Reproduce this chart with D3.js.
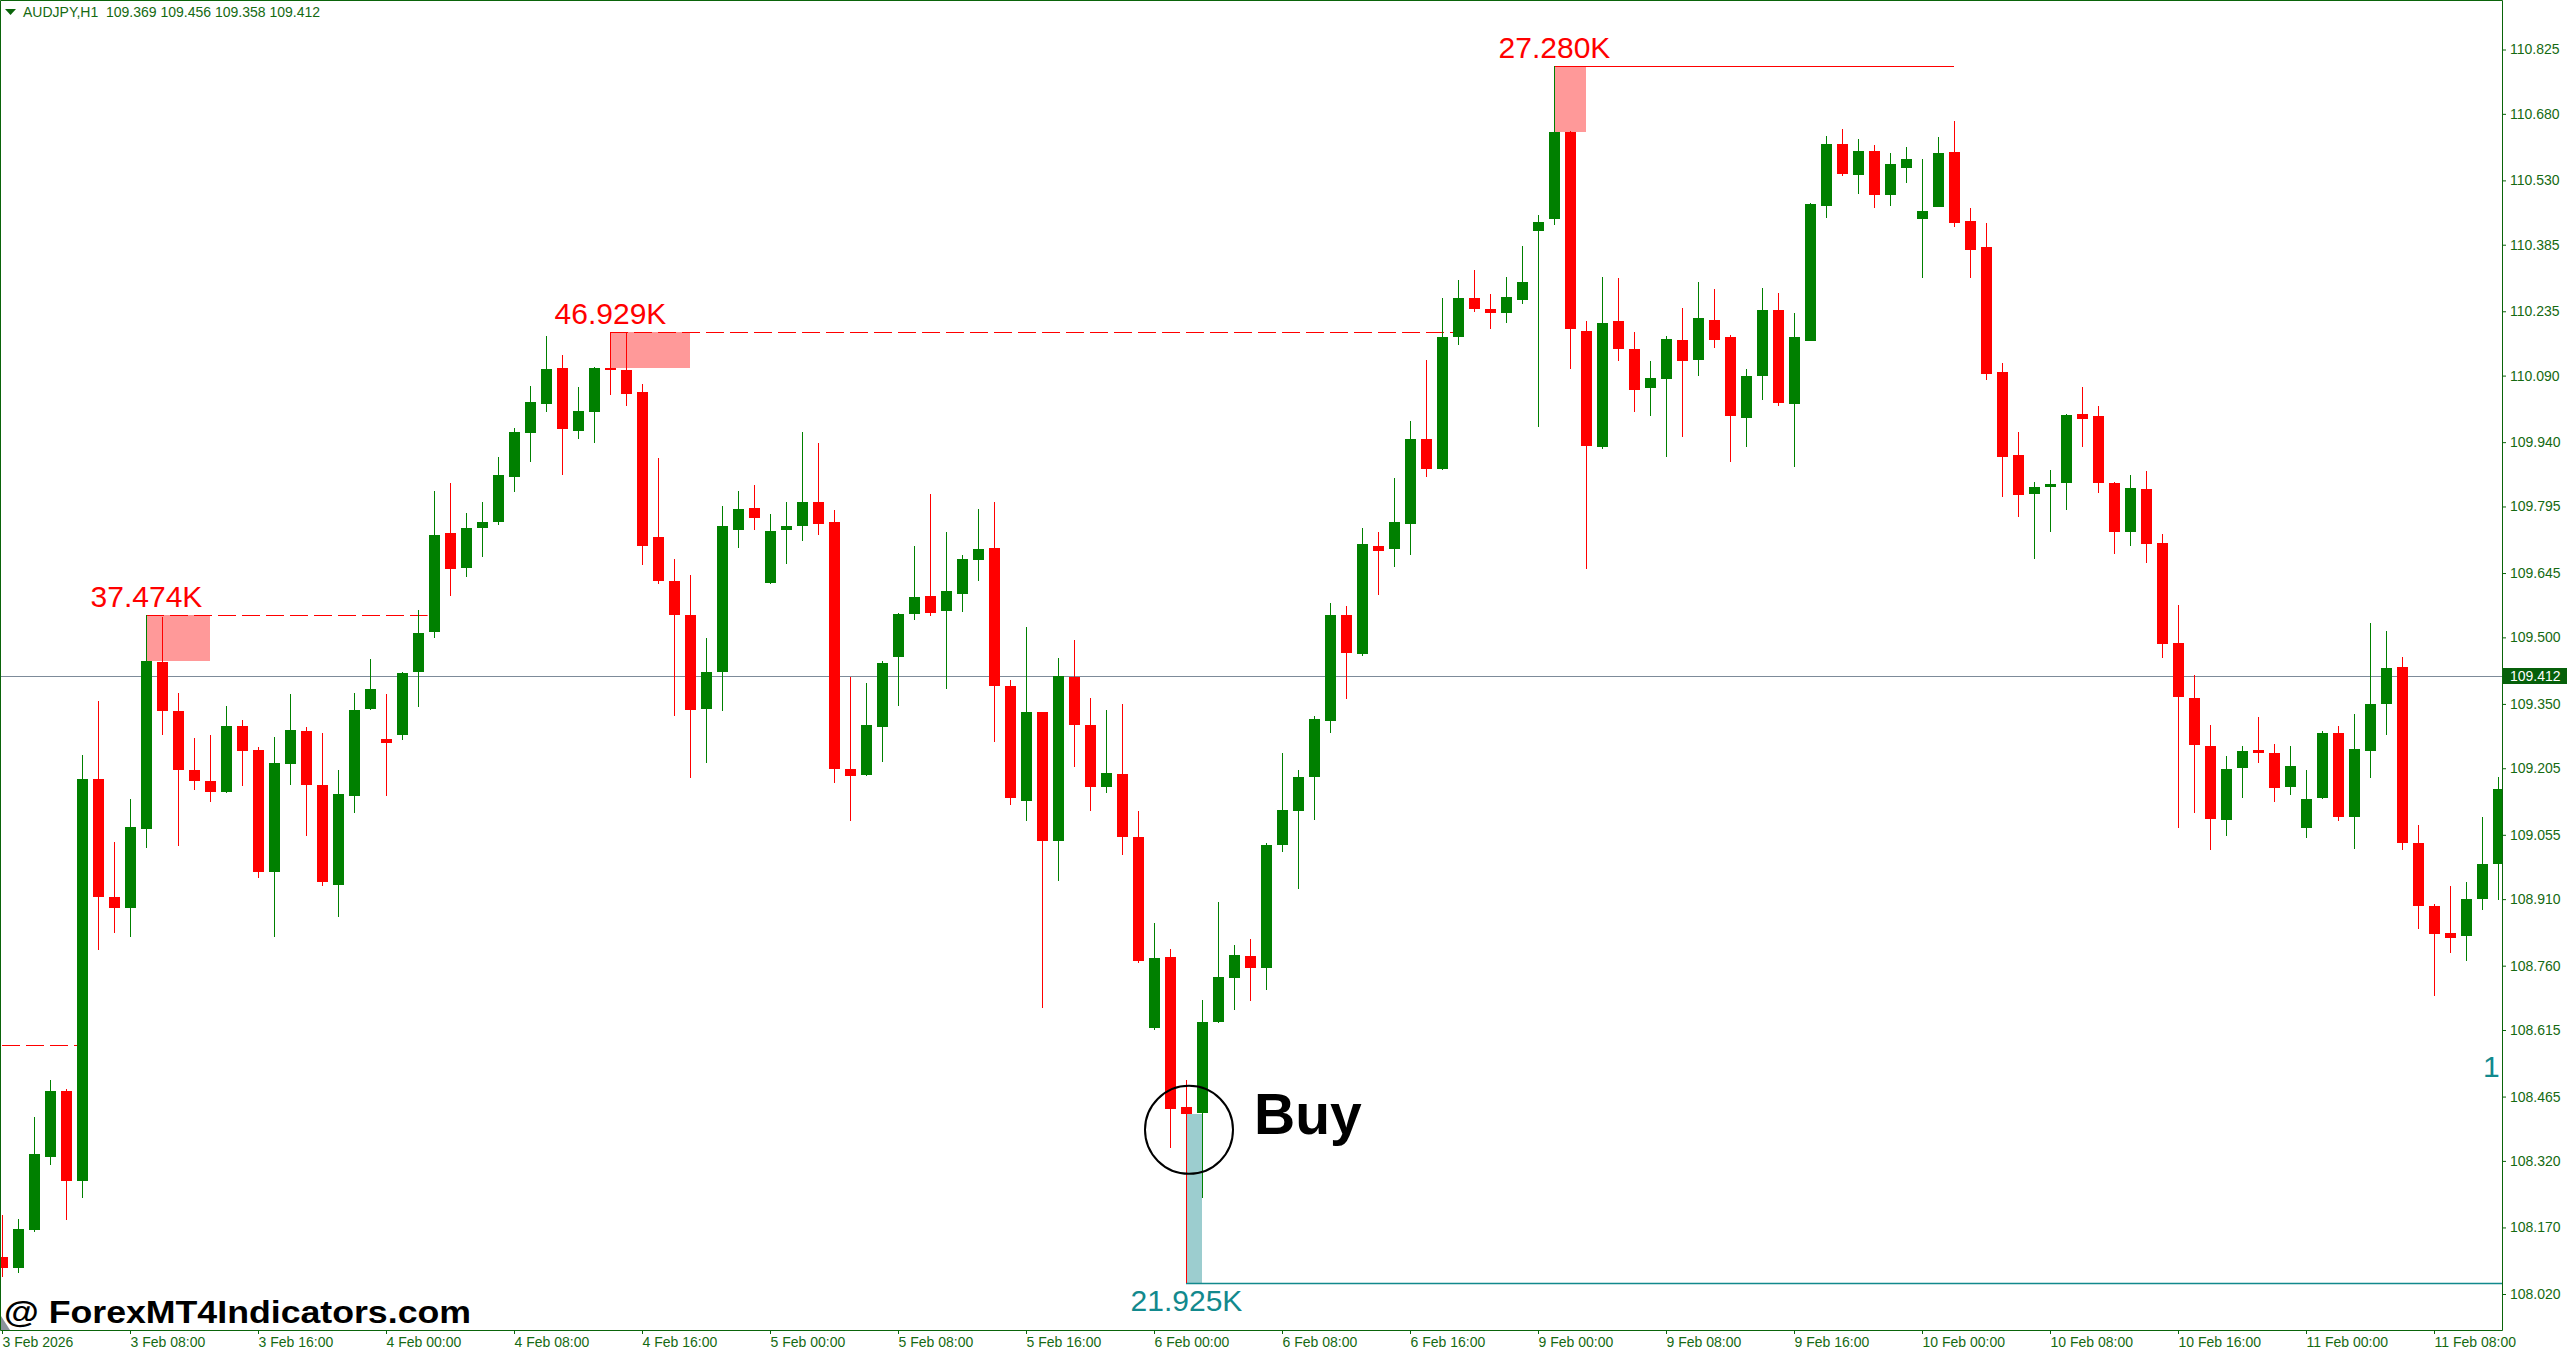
<!DOCTYPE html>
<html><head><meta charset="utf-8">
<script src="https://cdn.jsdelivr.net/npm/d3@7"></script>
<style>html,body{margin:0;padding:0;background:#fff;overflow:hidden}</style>
</head><body><svg id="c" width="2569" height="1355"></svg>
<script>
// ---------------- DATA ----------------
const chartTitle = "AUDJPY,H1  109.369 109.456 109.358 109.412";
const currentPrice = 109.412;

const openP = [108.103,108.079,108.164,108.329,108.478,108.275,109.181,108.915,108.890,109.069,
109.445,109.335,109.202,109.177,109.152,109.301,109.247,108.972,109.215,109.290,
109.168,108.942,109.143,109.339,109.271,109.281,109.423,109.513,109.736,109.657,
109.747,109.759,109.862,109.961,110.025,110.108,109.966,110.007,110.108,110.103,
110.052,109.727,109.628,109.551,109.339,109.423,109.743,109.792,109.623,109.743,
109.750,109.804,109.759,109.204,109.190,109.299,109.456,109.553,109.594,109.560,
109.598,109.675,109.702,109.391,109.132,109.332,109.042,109.411,109.303,109.163,
109.193,109.051,108.620,108.780,108.442,108.428,108.633,108.733,108.782,108.755,
109.032,109.109,109.186,109.312,109.551,109.463,109.707,109.700,109.756,109.948,
109.880,110.178,110.266,110.239,110.232,110.261,110.417,110.442,110.640,110.191,
109.928,110.212,110.151,110.061,110.083,110.171,110.126,110.216,110.176,109.995,
110.088,110.237,110.027,110.169,110.473,110.613,110.543,110.597,110.496,110.559,
110.444,110.471,110.595,110.439,110.379,110.097,109.912,109.824,109.840,109.849,
110.004,109.998,109.849,109.738,109.835,109.713,109.488,109.364,109.256,109.089,
109.206,109.247,109.240,109.163,109.071,109.138,109.285,109.096,109.244,109.350,
109.434,109.037,108.895,108.834,108.827,108.911,108.990];

const highP = [108.198,108.189,108.419,108.503,108.482,109.235,109.357,109.039,109.136,109.551,
109.547,109.375,109.274,109.281,109.346,109.314,109.253,109.276,109.373,109.299,
109.285,109.202,109.375,109.452,109.373,109.423,109.562,109.831,109.849,109.781,
109.806,109.907,109.973,110.067,110.180,110.137,110.065,110.110,110.189,110.187,
110.072,109.905,109.677,109.641,109.499,109.795,109.831,109.844,109.779,109.804,
109.964,109.937,109.788,109.411,109.398,109.447,109.556,109.707,109.824,109.738,
109.686,109.790,109.806,109.405,109.524,109.332,109.454,109.495,109.364,109.337,
109.350,109.109,108.857,108.798,108.503,108.683,108.904,108.807,108.821,109.037,
109.240,109.202,109.323,109.578,109.571,109.747,109.738,109.860,109.988,110.126,
110.266,110.306,110.327,110.275,110.313,110.383,110.453,110.787,110.642,110.214,
110.313,110.309,110.189,110.122,110.180,110.243,110.300,110.286,110.182,110.106,
110.288,110.277,110.230,110.480,110.631,110.645,110.624,110.609,110.591,110.606,
110.579,110.627,110.663,110.467,110.435,110.119,109.964,109.851,109.878,110.004,
110.065,110.022,109.851,109.865,109.874,109.734,109.574,109.416,109.303,109.233,
109.256,109.321,109.260,109.256,109.202,109.290,109.301,109.328,109.533,109.515,
109.456,109.078,108.899,108.940,108.949,109.096,109.186];

const lowP = [108.058,108.067,108.160,108.311,108.187,108.237,108.796,108.834,108.825,109.026,
109.281,109.030,109.156,109.129,109.150,109.166,108.958,108.825,109.168,109.053,
108.940,108.870,109.105,109.337,109.143,109.269,109.344,109.499,109.594,109.635,
109.682,109.754,109.828,109.896,110.007,109.865,109.948,109.939,110.047,110.022,
109.662,109.621,109.323,109.184,109.217,109.335,109.702,109.743,109.621,109.666,
109.718,109.731,109.172,109.087,109.188,109.220,109.346,109.540,109.549,109.384,
109.558,109.628,109.265,109.123,109.087,108.665,108.951,109.208,109.109,109.150,
109.010,108.766,108.615,108.349,108.045,108.237,108.631,108.660,108.681,108.706,
109.017,108.933,109.089,109.285,109.362,109.459,109.596,109.659,109.686,109.862,
109.878,110.158,110.234,110.196,110.209,110.252,109.975,110.430,110.106,109.653,
109.925,110.124,110.007,109.998,109.907,109.952,110.088,110.153,109.896,109.930,
110.034,110.022,109.883,110.167,110.446,110.539,110.500,110.467,110.473,110.525,
110.311,110.469,110.426,110.311,110.081,109.817,109.772,109.677,109.738,109.786,
109.928,109.826,109.689,109.707,109.668,109.454,109.071,109.105,109.021,109.053,
109.138,109.217,109.129,109.145,109.048,109.136,109.087,109.023,109.184,109.281,
109.021,108.843,108.692,108.789,108.771,108.886,108.908];

const closeP = [108.079,108.167,108.336,108.478,108.275,109.181,108.915,108.890,109.073,109.447,
109.335,109.202,109.177,109.152,109.301,109.244,108.972,109.217,109.292,109.168,
108.949,109.147,109.337,109.384,109.262,109.420,109.510,109.731,109.655,109.747,
109.761,109.865,109.964,110.031,110.106,109.970,110.011,110.108,110.103,110.049,
109.707,109.628,109.551,109.337,109.423,109.750,109.790,109.770,109.740,109.750,
109.804,109.756,109.204,109.188,109.303,109.443,109.553,109.592,109.556,109.605,
109.677,109.700,109.391,109.138,109.332,109.042,109.414,109.303,109.163,109.195,
109.051,108.771,108.778,108.437,108.426,108.633,108.735,108.784,108.755,109.032,
109.111,109.186,109.317,109.551,109.465,109.711,109.695,109.759,109.948,109.880,
110.176,110.264,110.239,110.232,110.268,110.300,110.437,110.638,110.196,109.932,
110.209,110.149,110.058,110.085,110.173,110.124,110.219,110.171,110.000,110.090,
110.237,110.029,110.178,110.476,110.613,110.545,110.597,110.496,110.566,110.579,
110.460,110.591,110.435,110.374,110.094,109.907,109.822,109.840,109.846,110.002,
109.993,109.849,109.738,109.837,109.711,109.486,109.366,109.258,109.091,109.204,
109.244,109.240,109.161,109.211,109.136,109.285,109.096,109.249,109.350,109.432,
109.037,108.895,108.832,108.823,108.911,108.990,109.159];

const timeLabelIndex = [0,8,16,24,32,40,48,56,64,72,80,88,96,104,112,120,128,136,144,152];
const timeLabels = ["3 Feb 2026","3 Feb 08:00","3 Feb 16:00","4 Feb 00:00","4 Feb 08:00","4 Feb 16:00",
"5 Feb 00:00","5 Feb 08:00","5 Feb 16:00","6 Feb 00:00","6 Feb 08:00","6 Feb 16:00",
"9 Feb 00:00","9 Feb 08:00","9 Feb 16:00","10 Feb 00:00","10 Feb 08:00","10 Feb 16:00",
"11 Feb 00:00","11 Feb 08:00"];

const priceTicks = [110.825,110.680,110.530,110.385,110.235,110.090,109.940,109.795,109.645,109.500,
109.350,109.205,109.055,108.910,108.760,108.615,108.465,108.320,108.170,108.020];

// volume-level annotations (candle index, label, side of candle, end candle, dashed, box width in bars)
const volIndex = [9, 38, 97, 74];
const volText = ["37.474K","46.929K","27.280K","21.925K"];
const volSide = ["high","high","high","low"];
const volEnd = [26.6, 90.8, 122, 160];
const volDashed = [true, true, false, false];
const volBoxBars = [4, 5, 2, 1];
const oldLevelPrice = 108.582, oldLevelEnd = 5;
const buyIndex = 74, buyPrice = 108.390;

// ---------------- DRAW ----------------
const W = 2569, H = 1355, plotR = 2502, plotB = 1330;
const axisCol = "#0a640a", textCol = "#156a12";
const bull = "#008000", bear = "#ff0000";
const font = "'Liberation Sans', Arial, sans-serif";

const x = d3.scaleLinear().domain([0, 156]).range([2, 2498]);
const y = d3.scaleLinear().domain([108.020, 110.825]).range([1294, 49.5]);

const svg = d3.select("#c");
svg.append("rect").attr("width", W).attr("height", H).attr("fill", "#fff");
svg.append("defs").append("clipPath").attr("id", "plot")
  .append("rect").attr("x", 1).attr("y", 1).attr("width", plotR - 1).attr("height", plotB - 1);

const g = svg.append("g").attr("clip-path", "url(#plot)");

// current price line
g.append("line").attr("x1", 0).attr("x2", plotR)
  .attr("y1", Math.round(y(currentPrice)) + 0.5).attr("y2", Math.round(y(currentPrice)) + 0.5)
  .attr("stroke", "#7d8b99").attr("stroke-width", 1);

// volume boxes and level lines
const vols = volIndex.map((idx, k) => {
  const side = volSide[k];
  const level = side === "high" ? highP[idx] : lowP[idx];
  const bodyEdge = side === "high" ? Math.max(openP[idx], closeP[idx]) : Math.min(openP[idx], closeP[idx]);
  return {idx, side, level, bodyEdge, text: volText[k], end: volEnd[k], dashed: volDashed[k], bars: volBoxBars[k]};
});

g.selectAll("rect.vbox").data(vols).enter().append("rect")
  .attr("x", d => Math.round(x(d.idx)))
  .attr("width", d => x(d.idx + d.bars) - x(d.idx))
  .attr("y", d => Math.round(Math.min(y(d.level), y(d.bodyEdge))))
  .attr("height", d => Math.abs(Math.round(y(d.level)) - Math.round(y(d.bodyEdge))))
  .attr("fill", d => d.side === "high" ? "#ff9999" : "#9ccdcf");

g.selectAll("line.vlev").data(vols).enter().append("line")
  .attr("x1", d => Math.round(x(d.idx)))
  .attr("x2", d => Math.min(plotR, x(d.end)))
  .attr("y1", d => Math.round(y(d.level)) + 0.5)
  .attr("y2", d => Math.round(y(d.level)) + 0.5)
  .attr("stroke", d => d.side === "high" ? "#ff0000" : "#12898d")
  .attr("stroke-width", d => d.side === "high" ? 1 : 1.5)
  .attr("stroke-dasharray", d => d.dashed ? "18,6" : null);

// older level line at left
g.append("line").attr("x1", x(0)).attr("x2", x(oldLevelEnd))
  .attr("y1", Math.round(y(oldLevelPrice)) + 0.5).attr("y2", Math.round(y(oldLevelPrice)) + 0.5)
  .attr("stroke", "#ff0000").attr("stroke-width", 1).attr("stroke-dasharray", "18,6");

// candles
const candles = openP.map((o, i) => ({i, o, h: highP[i], l: lowP[i], c: closeP[i]}));
const cg = g.append("g");
cg.selectAll("rect.wick").data(candles).enter().append("rect")
  .attr("x", d => Math.round(x(d.i)))
  .attr("width", 1)
  .attr("y", d => Math.round(y(d.h)))
  .attr("height", d => Math.max(1, Math.round(y(d.l)) - Math.round(y(d.h))))
  .attr("fill", d => d.c >= d.o ? bull : bear);
cg.selectAll("rect.body").data(candles).enter().append("rect")
  .attr("x", d => Math.round(x(d.i)) - 5)
  .attr("width", 11)
  .attr("y", d => Math.round(y(Math.max(d.o, d.c))))
  .attr("height", d => Math.max(2, Math.round(y(Math.min(d.o, d.c))) - Math.round(y(Math.max(d.o, d.c)))))
  .attr("fill", d => d.c >= d.o ? bull : bear);

// volume labels
g.selectAll("text.vlab").data(vols).enter().append("text")
  .attr("x", d => x(d.idx) + 0.5)
  .attr("y", d => d.side === "high" ? y(d.level) - 8 : y(d.level) + 28)
  .attr("text-anchor", "middle")
  .attr("font-family", font).attr("font-size", 30)
  .attr("fill", d => d.side === "high" ? "#ff0000" : "#12898d")
  .text(d => d.text);

// partially visible label at right edge
g.append("text").attr("x", 2483).attr("y", 1077)
  .attr("font-family", font).attr("font-size", 30).attr("fill", "#12898d").text("1");

// Buy marker
g.append("circle").attr("cx", x(buyIndex) + 3).attr("cy", y(buyPrice)).attr("r", 44)
  .attr("fill", "none").attr("stroke", "#000").attr("stroke-width", 2);
g.append("text").attr("x", x(buyIndex) + 68).attr("y", y(buyPrice) + 4)
  .attr("font-family", font).attr("font-weight", "bold").attr("font-size", 57)
  .attr("fill", "#000").text("Buy");

// watermark
svg.append("text").attr("x", 4).attr("y", 1323)
  .attr("font-family", font).attr("font-weight", "bold").attr("font-size", 31)
  .attr("textLength", 467).attr("lengthAdjust", "spacingAndGlyphs")
  .attr("fill", "#000").text("@ ForexMT4Indicators.com");
svg.append("path").attr("d", "M1,1316 L1,1330 L10,1330 Z").attr("fill", "#8c929c");

// frame
svg.append("path").attr("d", `M0.5,${plotB + 0.5} L0.5,0.5 L${plotR + 0.5},0.5 L${plotR + 0.5},${plotB + 0.5} Z`)
  .attr("fill", "none").attr("stroke", axisCol).attr("stroke-width", 1);

// price axis
const ya = svg.append("g").attr("transform", `translate(${plotR},0)`)
  .call(d3.axisRight(y).tickValues(priceTicks).tickFormat(d3.format(".3f")).tickSize(4).tickPadding(4));
ya.select(".domain").remove();
ya.selectAll("line").attr("stroke", axisCol);
ya.selectAll("text").attr("font-family", font).attr("font-size", 14).attr("fill", textCol);

// current price tag
const cpY = Math.round(y(currentPrice));
svg.append("rect").attr("x", plotR + 1).attr("y", cpY - 8).attr("width", 64).attr("height", 16).attr("fill", "#06600a");
svg.append("text").attr("x", plotR + 8).attr("y", cpY + 5)
  .attr("font-family", font).attr("font-size", 14).attr("fill", "#fff").text(currentPrice.toFixed(3));

// time axis
const xa = svg.append("g").attr("transform", `translate(0,${plotB})`)
  .call(d3.axisBottom(x).tickValues(timeLabelIndex).tickFormat((d, k) => timeLabels[k]).tickSize(4));
xa.select(".domain").remove();
xa.selectAll("line").attr("stroke", axisCol);
xa.selectAll("text").attr("text-anchor", "start").attr("y", 17).attr("dy", 0)
  .attr("font-family", font).attr("font-size", 14).attr("fill", textCol);

// title
svg.append("path").attr("d", "M5,9 L16,9 L10.5,15 Z").attr("fill", "#0a640a");
svg.append("text").attr("x", 23).attr("y", 17).style("white-space", "pre")
  .attr("font-family", font).attr("font-size", 14).attr("fill", textCol).text(chartTitle);
</script>
</body></html>
